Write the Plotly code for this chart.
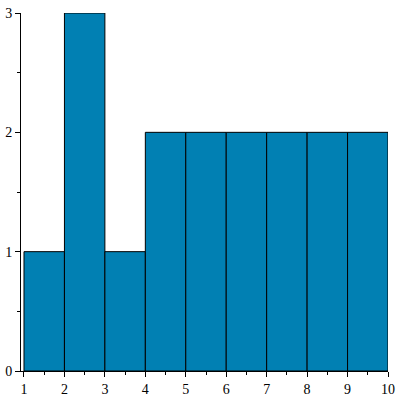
import plotly.graph_objects as go

bin_edges = [1, 2, 3, 4, 5, 6, 7, 8, 9, 10]
counts = [1, 3, 1, 2, 2, 2, 2, 2, 2]
x_ticks = [1, 2, 3, 4, 5, 6, 7, 8, 9, 10]
y_ticks = [0, 1, 2, 3]

centers = [(a + b) / 2 for a, b in zip(bin_edges[:-1], bin_edges[1:])]
widths = [b - a for a, b in zip(bin_edges[:-1], bin_edges[1:])]

fig = go.Figure(go.Bar(
    x=centers, y=counts, width=widths,
    marker=dict(color="#0180b3", line=dict(color="black", width=1)),
))

font = dict(family="Liberation Serif", size=14, color="black")
fig.update_layout(
    width=400, height=400,
    margin=dict(l=21, r=12, t=13, b=29),
    plot_bgcolor="white", paper_bgcolor="white",
    showlegend=False,
    font=font,
    xaxis=dict(range=[0.926, 10], tickvals=x_ticks, showgrid=False, zeroline=False,
               automargin=False,
               showline=True, linecolor="black", linewidth=1,
               ticks="outside", ticklen=5, tickcolor="black",
               minor=dict(ticks="outside", dtick=0.5, tick0=1, ticklen=3, tickcolor="black"),
               tickfont=font),
    yaxis=dict(range=[0, 3], tickvals=y_ticks, showgrid=False, zeroline=False,
               automargin=False,
               showline=True, linecolor="black", linewidth=1,
               ticks="outside", ticklen=5, tickcolor="black", ticklabelstandoff=0,
               minor=dict(ticks="outside", dtick=0.5, tick0=0, ticklen=3, tickcolor="black"),
               tickfont=font),
)
fig.write_html("out.html", config={"displayModeBar": False},
               post_script="document.body.style.margin='0';document.body.style.overflow='hidden';")
